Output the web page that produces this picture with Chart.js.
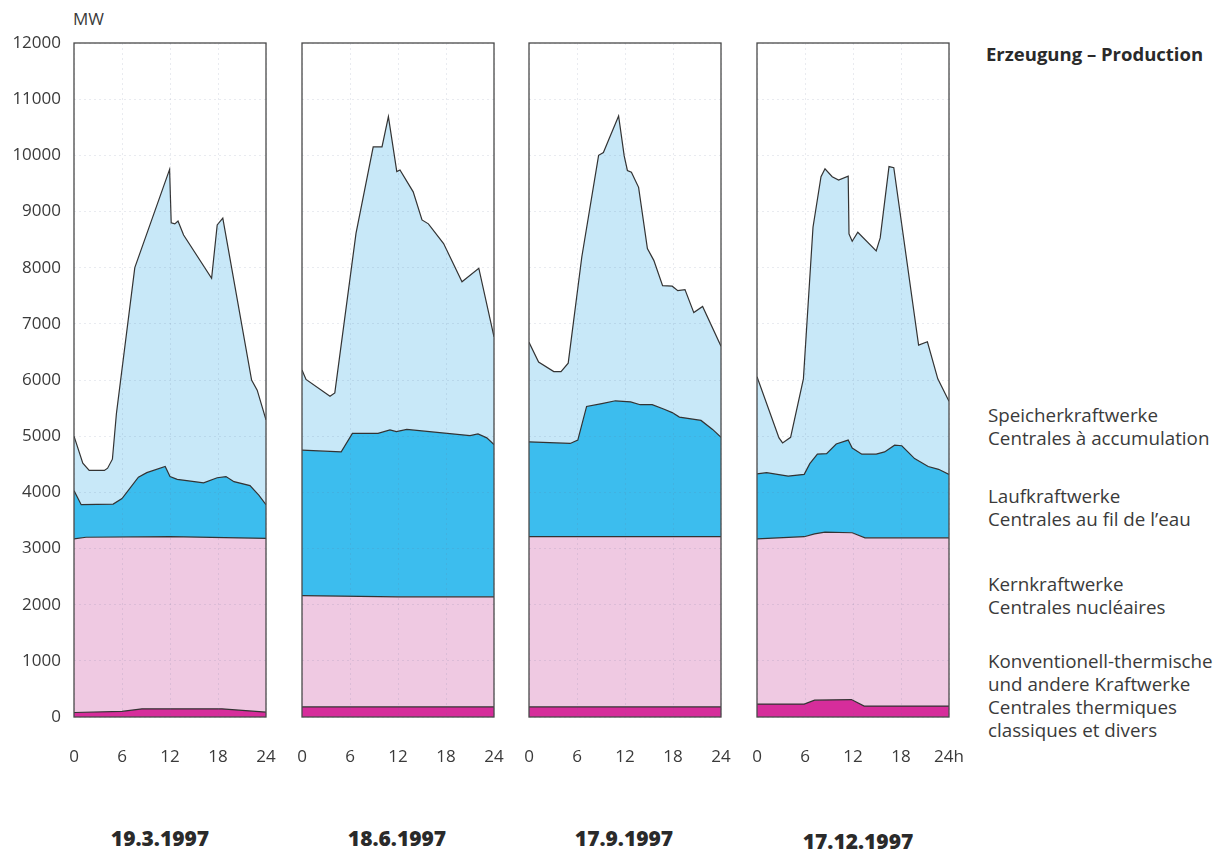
<!DOCTYPE html>
<html>
<head>
<meta charset="utf-8">
<script src="https://cdn.jsdelivr.net/npm/chart.js@4.4.1/dist/chart.umd.min.js"></script>
<style>
  body{margin:0;background:#fff;width:1219px;height:852px;position:relative;overflow:hidden;
       font-family:"Open Sans","Noto Sans",sans-serif;color:#3a3a3a}
  canvas{position:absolute;top:0}
  .t{position:absolute;white-space:nowrap}
  .leg{font-size:18.8px;line-height:23px}
  .date{font-size:21px;font-weight:800;width:220px;text-align:center;color:#2a2a2a}
</style>
</head>
<body>
<div class="t" style="left:73px;top:7px;font-size:17px">MW</div>
<div class="t" style="left:986px;top:41px;font-size:18.5px;font-weight:700;color:#2a2a2a">Erzeugung – Production</div>
<div class="t leg" style="left:988px;top:404px">Speicherkraftwerke<br>Centrales à accumulation</div>
<div class="t leg" style="left:988px;top:485px">Laufkraftwerke<br>Centrales au fil de l’eau</div>
<div class="t leg" style="left:988px;top:573px">Kernkraftwerke<br>Centrales nucléaires</div>
<div class="t leg" style="left:988px;top:650px">Konventionell-thermische<br>und andere Kraftwerke<br>Centrales thermiques<br>classiques et divers</div>
<div id="dates"></div>

<canvas id="c0"></canvas>
<canvas id="c1"></canvas>
<canvas id="c2"></canvas>
<canvas id="c3"></canvas>

<script>
// ---- Daten (MW, Obergrenze jeder Schicht, kumuliert) ----
const panelDates = ['19.3.1997', '18.6.1997', '17.9.1997', '17.12.1997'];
const xTicks = [0, 6, 12, 18, 24];

// 19.3.1997
const p1TopHours  = [0,1.1,1.9,3.8,4.2,4.8,5.3,7.6,11.95,12.15,12.6,13.0,13.7,17.2,17.9,18.6,22.2,22.9,24];
const p1Top       = [5000,4520,4390,4390,4430,4590,5400,8000,9750,8800,8780,8830,8580,7810,8760,8880,6000,5820,5290];
const p1LaufHours = [0,0.9,4.9,6.0,8.05,9.1,11.4,12.0,12.9,14.1,16.2,17.9,19.0,20.0,22.0,23.1,24];
const p1Lauf      = [4030,3780,3790,3890,4270,4350,4460,4280,4230,4210,4170,4260,4280,4190,4120,3950,3780];
const p1KernHours = [0,1.5,12,24];
const p1Kern      = [3170,3200,3210,3180];
const p1KonvHours = [0,6,8.5,18.5,24];
const p1Konv      = [80,100,145,145,85];

// 18.6.1997
const p2TopHours  = [0,0.5,3.5,4.1,6.75,8.9,10.0,10.8,11.85,12.25,13.9,15.0,15.8,17.7,20.0,22.1,24];
const p2Top       = [6180,6010,5710,5770,8610,10150,10150,10690,9710,9740,9350,8850,8780,8430,7750,7990,6770];
const p2LaufHours = [0,4.9,6.3,9.5,11.0,11.8,13.1,21.0,22.0,23.1,24];
const p2Lauf      = [4750,4720,5050,5050,5110,5080,5120,5010,5040,4970,4850];
const p2KernHours = [0,12,24];
const p2Kern      = [2160,2140,2140];
const p2KonvHours = [0,24];
const p2Konv      = [180,180];

// 17.9.1997
const p3TopHours  = [0,1.2,3.1,4.0,4.9,6.6,8.7,9.3,10.0,11.2,11.9,12.3,12.8,13.7,14.8,15.6,16.7,17.9,18.6,19.5,20.6,21.7,24];
const p3Top       = [6670,6320,6150,6150,6300,8190,10000,10050,10290,10700,9990,9730,9700,9430,8340,8130,7680,7670,7590,7610,7200,7310,6600];
const p3LaufHours = [0,5.15,6.1,7.2,9.1,10.8,12.7,13.9,15.4,16.9,17.9,18.8,21.5,22.95,24];
const p3Lauf      = [4900,4870,4930,5530,5580,5630,5610,5560,5560,5480,5420,5340,5280,5120,4980];
const p3KernHours = [0,24];
const p3Kern      = [3210,3210];
const p3KonvHours = [0,24];
const p3Konv      = [180,180];

// 17.12.1997
const p4TopHours  = [0,2.75,3.2,4.2,5.8,7.0,8.0,8.5,9.4,10.2,11.4,11.5,11.9,12.6,14.9,15.4,16.5,17.1,20.2,21.3,22.6,24];
const p4Top       = [6060,4970,4880,4980,6020,8720,9620,9760,9620,9560,9630,8600,8470,8630,8300,8530,9800,9780,6620,6680,6020,5620];
const p4LaufHours = [0,1.2,3.9,5.9,6.6,7.55,8.7,9.9,11.4,11.9,13.1,14.9,15.95,17.2,18.1,19.7,21.4,22.7,24];
const p4Lauf      = [4330,4350,4290,4320,4510,4680,4690,4860,4930,4790,4680,4680,4720,4840,4830,4600,4460,4410,4320];
const p4KernHours = [0,5.9,7.2,8.5,11.9,13.5,24];
const p4Kern      = [3170,3210,3260,3290,3280,3190,3190];
const p4KonvHours = [0,5.9,7.2,11.8,13.4,24];
const p4Konv      = [230,230,300,310,195,195];

const panels = [
  {konv:[p1KonvHours,p1Konv], kern:[p1KernHours,p1Kern], lauf:[p1LaufHours,p1Lauf], top:[p1TopHours,p1Top]},
  {konv:[p2KonvHours,p2Konv], kern:[p2KernHours,p2Kern], lauf:[p2LaufHours,p2Lauf], top:[p2TopHours,p2Top]},
  {konv:[p3KonvHours,p3Konv], kern:[p3KernHours,p3Kern], lauf:[p3LaufHours,p3Lauf], top:[p3TopHours,p3Top]},
  {konv:[p4KonvHours,p4Konv], kern:[p4KernHours,p4Kern], lauf:[p4LaufHours,p4Lauf], top:[p4TopHours,p4Top]}
];

// ---- Aussehen ----
const colors = {konv:'#d62d9b', kern:'#efc9e2', lauf:'#3cbdee', top:'#c8e8f8'};
const plotLeft = [74, 302, 529, 757];
const plotWidth = 192;
const axisW = [74, 14, 14, 14];
const dateX = [160, 397, 624, 858];
const dateY = [824, 824, 824, 827];

Chart.defaults.font.family = '"Open Sans","Noto Sans",sans-serif';
Chart.defaults.font.size = 17;
Chart.defaults.color = '#3a3a3a';

const gridColor = 'rgba(100,110,150,0.14)';

const frame = {
  id:'frame',
  afterDraw(chart){
    const a = chart.chartArea, c = chart.ctx;
    c.save();
    c.strokeStyle = '#4a4a4a';
    c.lineWidth = 1.3;
    c.strokeRect(a.left, a.top, a.right - a.left, a.bottom - a.top);
    c.restore();
  }
};

function pts(pair){ return pair[0].map((h,i) => ({x:h, y:pair[1][i]})); }

const dates = document.getElementById('dates');
panels.forEach((p, i) => {
  const cv = document.getElementById('c' + i);
  const w = axisW[i] + plotWidth + 20;
  cv.width = w; cv.height = 777;
  cv.style.left = (plotLeft[i] - axisW[i]) + 'px';

  const line = {borderColor:'#333', borderWidth:1.2, pointRadius:0, tension:0};
  new Chart(cv.getContext('2d'), {
    type:'line',
    data:{datasets:[
      {...line, label:'Konventionell-thermische', data:pts(p.konv), fill:'origin', backgroundColor:colors.konv},
      {...line, label:'Kernkraftwerke', data:pts(p.kern), fill:'-1', backgroundColor:colors.kern},
      {...line, label:'Laufkraftwerke', data:pts(p.lauf), fill:'-1', backgroundColor:colors.lauf},
      {...line, label:'Speicherkraftwerke', data:pts(p.top), fill:'-1', backgroundColor:colors.top}
    ]},
    options:{
      responsive:false, animation:false, events:[],
      layout:{padding:{top:43, right:20, left:0, bottom:0}},
      plugins:{legend:{display:false}, tooltip:{enabled:false}},
      scales:{
        x:{
          type:'linear', min:0, max:24,
          afterBuildTicks(s){ s.ticks = xTicks.map(v => ({value:v})); },
          ticks:{padding:0, callback:v => (i === 3 && v === 24) ? '24h' : String(v)},
          grid:{color:gridColor, drawTicks:true, tickLength:30, tickColor:'rgba(0,0,0,0)', z:1},
          border:{display:false, dash:[2,3]},
          afterFit(s){ s.height = 60; }
        },
        y:{
          min:0, max:12000,
          ticks:{display:i === 0, stepSize:1000, padding:13, callback:v => String(v)},
          grid:{color:gridColor, drawTicks:false, z:1},
          border:{display:false, dash:[2,3]},
          afterFit(s){ s.width = axisW[i]; }
        }
      }
    },
    plugins:[frame]
  });

  const d = document.createElement('div');
  d.className = 't date';
  d.style.left = (dateX[i] - 110) + 'px';
  d.style.top = dateY[i] + 'px';
  d.textContent = panelDates[i];
  dates.appendChild(d);
});
</script>
</body>
</html>
